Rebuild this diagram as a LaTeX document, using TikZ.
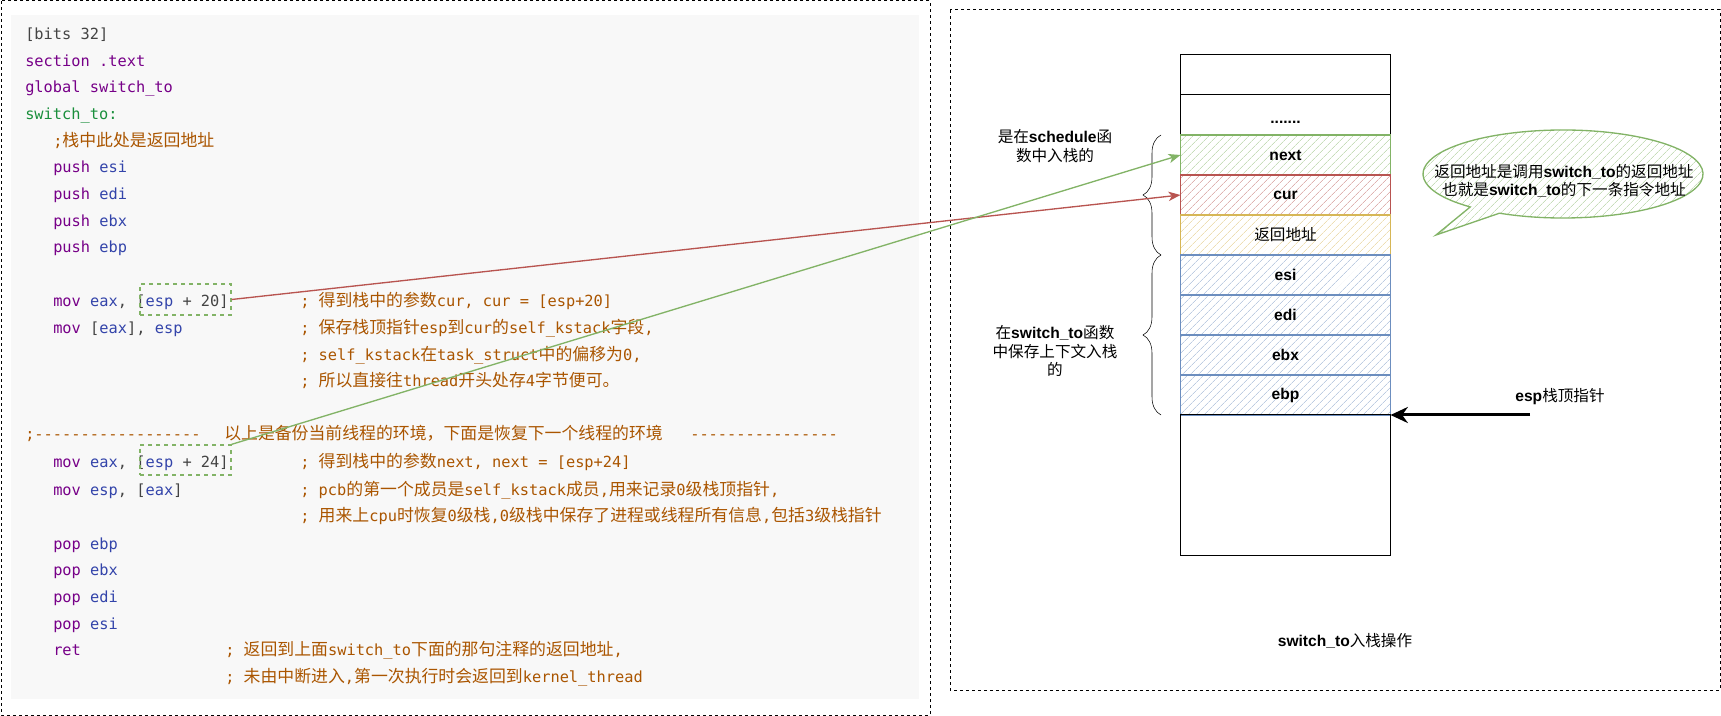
\documentclass[tikz,border=0pt]{standalone}
\usepackage{fontspec}
\setmainfont{Liberation Sans}
\setmonofont{DejaVu Sans Mono}
\newfontfamily\zhsans{Noto Sans CJK SC}
\newfontfamily\zhmono[Scale=1.1]{Noto Sans CJK SC}
\usetikzlibrary{positioning,fit,calc,arrows.meta,patterns.meta,decorations.pathreplacing}
\definecolor{kwc}{HTML}{770088}
\definecolor{regc}{HTML}{3344AA}
\definecolor{labc}{HTML}{1A8F3C}
\definecolor{cmtc}{HTML}{AA5500}
\definecolor{darkc}{HTML}{444444}
\definecolor{codebg}{HTML}{F8F8F8}
\definecolor{gline}{HTML}{82B366}
\definecolor{rline}{HTML}{B85450}
\definecolor{yline}{HTML}{D6B656}
\definecolor{bline}{HTML}{6C8EBF}
\newcommand\kw[1]{\textcolor{kwc}{#1}}
\newcommand\rg[1]{\textcolor{regc}{#1}}
\newcommand\zc[1]{{\zhmono #1}}
\newcommand\zs[1]{{\zhsans #1}}

\begin{document}
\begin{tikzpicture}[x=0.75pt,y=-0.75pt,>=Stealth,
    font=\fontsize{11.7}{14}\selectfont,
    panel/.style={line width=0.75pt,dash pattern=on 2.25pt off 2.25pt},
    code/.style={anchor=base west,inner sep=0pt,text=darkc,font=\fontsize{11.5}{14}\selectfont\ttfamily},
    cmt/.style={code,text=cmtc},
    argbox/.style={draw=gline,line width=1pt,dash pattern=on 3pt off 3pt,inner sep=0pt},
    cell/.style={draw,line width=0.75pt,minimum width=157.5pt,minimum height=30pt,inner sep=0pt,outer sep=0pt,font=\fontsize{11.7}{14}\selectfont\bfseries},
    hatch/.style={cell,draw=#1,line width=1pt,pattern={Lines[angle=45,distance=4pt,line width=0.6pt]},pattern color=#1!45},
    link/.style={line width=1pt,-{Stealth[length=9pt,width=7pt,inset=2.5pt]}}]
\useasboundingbox (0,0) rectangle (1721,716);
\draw[panel] (1,1) rectangle (930,715);
\fill[codebg] (11,15) rectangle (919,699);
\draw[panel] (950,10) rectangle (1720,690);

\node[code] (l1) at (25,40) {[bits 32]};
\node[code] (l2) at (25,67) {\kw{section .text}};
\node[code] (l3) at (25,93) {\kw{global switch\_to}};
\node[code] (l4) at (25,120) {\textcolor{labc}{switch\_to:}};
\node[cmt] (l5) at (53,147) {;\zc{栈中此处是返回地址}};
\foreach \r/\y in {esi/173,edi/200,ebx/227,ebp/253}
    \node[code] (push\r) at (53,\y) {\kw{push} \rg{\r}};
\node[code] (l10) at (53,307) {\kw{mov} \rg{eax}, [\rg{esp} + 20]};
\node[cmt] (c10) at (300,307) {; \zc{得到栈中的参数}cur, cur = [esp+20]};
\node[code] (l11) at (53,334) {\kw{mov} [\rg{eax}], \rg{esp}};
\node[cmt] (c11) at (300,334) {; \zc{保存栈顶指针}esp\zc{到}cur\zc{的}self\_kstack\zc{字段},};
\node[cmt] (c12) at (300,361) {; self\_kstack\zc{在}task\_struct\zc{中的偏移为}0,};
\node[cmt] (c13) at (300,387) {; \zc{所以直接往}thread\zc{开头处存}4\zc{字节便可。}};
\node[cmt] (s1) at (25,440) {;------------------};
\node[cmt] (s2) at (224,440) {\zc{以上是备份当前线程的环境，下面是恢复下一个线程的环境}};
\node[cmt] (s3) at (690,440) {----------------};
\node[code] (l15) at (53,468) {\kw{mov} \rg{eax}, [\rg{esp} + 24]};
\node[cmt] (c15) at (300,468) {; \zc{得到栈中的参数}next, next = [esp+24]};
\node[code] (l16) at (53,495) {\kw{mov} \rg{esp}, [\rg{eax}]};
\node[cmt] (c16) at (300,495) {; pcb\zc{的第一个成员是}self\_kstack\zc{成员},\zc{用来记录}0\zc{级栈顶指针},};
\node[cmt] (c17) at (300,522) {; \zc{用来上}cpu\zc{时恢复}0\zc{级栈},0\zc{级栈中保存了进程或线程所有信息},\zc{包括}3\zc{级栈指针}};
\foreach \r/\y in {ebp/549,ebx/575,edi/602,esi/629}
    \node[code] (pop\r) at (53,\y) {\kw{pop} \rg{\r}};
\node[code] (l22) at (53,655) {\kw{ret}};
\node[cmt] (c22) at (225,655) {; \zc{返回到上面}switch\_to\zc{下面的那句注释的返回地址},};
\node[cmt] (c23) at (225,682) {; \zc{未由中断进入},\zc{第一次执行时会返回到}kernel\_thread};
\node[argbox,fit={(140,284) (231,315)}] (arg1) {};
\node[argbox,fit={(140,445) (231,475)}] (arg2) {};

\node[cell] (topcell) at (1285.5,75) {};
\node[cell,below=0pt of topcell,text height=13pt,text depth=0pt] (dots) {.......};
\node[hatch=gline,below=0pt of dots] (next) {next};
\node[hatch=rline,below=0pt of next] (cur) {cur};
\node[hatch=yline,below=0pt of cur] (ret) {\mdseries\zs{返回地址}};
\node[hatch=bline,below=0pt of ret] (esi) {esi};
\node[hatch=bline,below=0pt of esi] (edi) {edi};
\node[hatch=bline,below=0pt of edi] (ebx) {ebx};
\node[hatch=bline,below=0pt of ebx] (ebp) {ebp};
\node[cell,minimum height=105pt,below=0pt of ebp] (bottom) {};

\draw[decorate,decoration={brace,amplitude=13.5pt}] (1161,255) -- (1161,135);
\draw[decorate,decoration={brace,amplitude=13.5pt}] (1161,415) -- (1161,255);
\node[align=center] (schedlab) at (1055,146) {\zs{是在}\textbf{schedule}\zs{函}\\\zs{数中入栈的}};
\node[align=center] (swlab) at (1055,351) {\zs{在}\textbf{switch\_to}\zs{函数}\\\zs{中保存上下文入栈}\\\zs{的}};

\coordinate (bub) at (1563,174);
\draw[gline,line width=1pt,pattern={Lines[angle=45,distance=4pt,line width=0.6pt]},pattern color=gline!45]
    ($(bub)+(131.5:140 and 44)$) -- (1436,235) -- ($(bub)+(117:140 and 44)$)
    arc[start angle=117,end angle=-228.5,x radius=140,y radius=44] -- cycle;
\node[align=center,font=\fontsize{11.7}{13.5}\selectfont] (bubtext) at (1564,181)
    {\zs{返回地址是调用}\textbf{switch\_to}\zs{的返回地址}\\\zs{也就是}\textbf{switch\_to}\zs{的下一条指令地址}};

\node (esplab) at (1560,397) {\textbf{esp}\zs{栈顶指针}};
\coordinate (espfrom) at (1530,415);
\draw[line width=2.25pt,-{Stealth[length=13pt,width=12pt]}] (espfrom) -- (ebp.south east);
\node (title) at (1345,641) {\textbf{switch\_to}\zs{入栈操作}};

\draw[link,rline] (arg1.east) -- (cur.west);
\draw[link,gline] (arg2.north east) -- (next.west);
\end{tikzpicture}
\end{document}
